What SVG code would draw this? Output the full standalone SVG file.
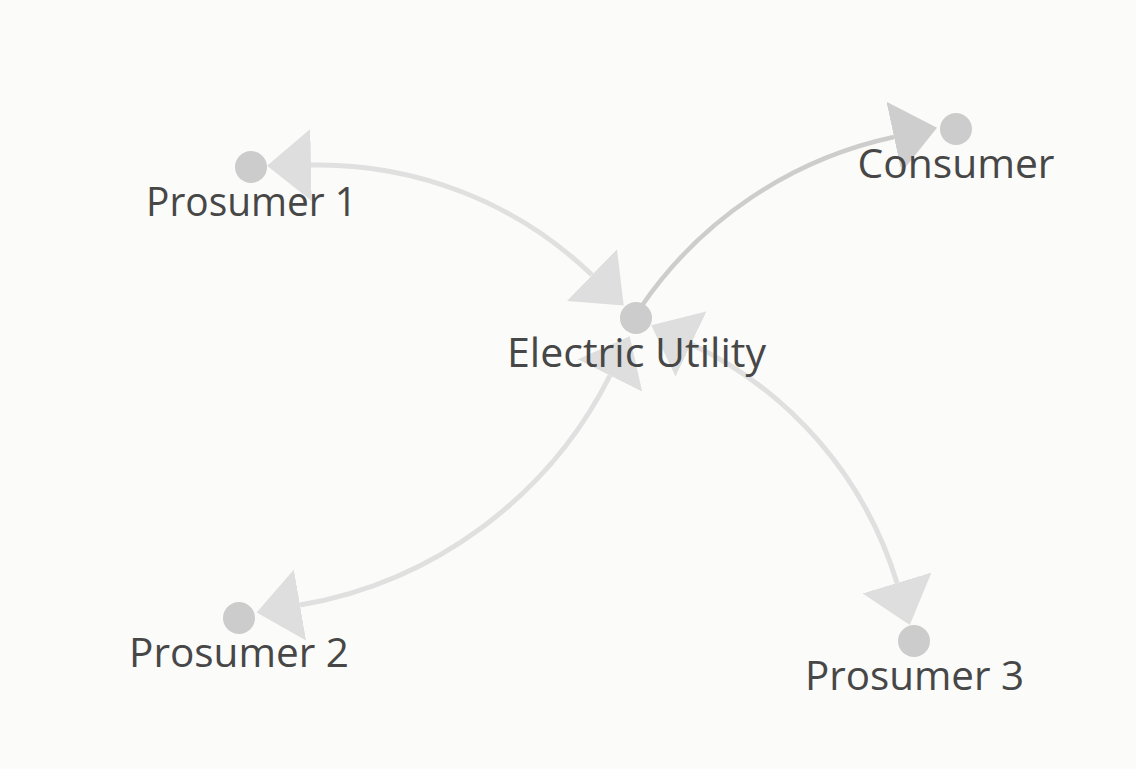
<svg xmlns="http://www.w3.org/2000/svg" width="1136" height="769" viewBox="0 0 1136 769">
  <defs>
    <marker id="arrLight" markerUnits="userSpaceOnUse" viewBox="0 -36 44 72" refX="0" refY="0" markerWidth="44" markerHeight="72" orient="auto-start-reverse">
      <polygon points="0,-36 44,0 0,36" fill="#dedede"/>
    </marker>
    <marker id="arrDark" markerUnits="userSpaceOnUse" viewBox="0 -36 44 72" refX="0" refY="0" markerWidth="44" markerHeight="72" orient="auto">
      <polygon points="0,-36 44,0 0,36" fill="#cecece"/>
    </marker>
  </defs>
  <style>
    .edge { fill: none; stroke: #e0e0e0; stroke-width: 5; }
    .edge.dark { stroke: #cdcdcd; stroke-width: 4.5; }
    .node circle { fill: #cccccc; }
    .node text { font-family: "Open Sans", "Liberation Sans", sans-serif; font-size: 40px; fill: #474747; text-anchor: middle; }
  </style>
  <rect width="1136" height="769" fill="#fbfbf9"/>
  <g id="connectors">
    <path class="edge" d="M311,165 A394,394 0 0 1 592,275" marker-start="url(#arrLight)" marker-end="url(#arrLight)"/>
    <path class="edge dark" d="M641,307 A410,410 0 0 1 894,137" marker-end="url(#arrDark)"/>
    <path class="edge" d="M300,605 A428,428 0 0 0 610,375.5" marker-start="url(#arrLight)" marker-end="url(#arrLight)"/>
    <path class="edge" d="M691,344 A390,390 0 0 1 897,583" marker-start="url(#arrLight)" marker-end="url(#arrLight)"/>
  </g>
  <g id="node-prosumer1" class="node">
    <circle cx="251" cy="167" r="16"/>
    <text x="251.5" y="216" textLength="211" lengthAdjust="spacingAndGlyphs">Prosumer 1</text>
  </g>
  <g id="node-consumer" class="node">
    <circle cx="956" cy="129" r="16"/>
    <text x="956" y="178" textLength="197" lengthAdjust="spacingAndGlyphs">Consumer</text>
  </g>
  <g id="node-utility" class="node">
    <circle cx="636" cy="318" r="16"/>
    <text x="636.5" y="367" textLength="259" lengthAdjust="spacingAndGlyphs">Electric Utility</text>
  </g>
  <g id="node-prosumer2" class="node">
    <circle cx="239" cy="618" r="16"/>
    <text x="239" y="667" textLength="220" lengthAdjust="spacingAndGlyphs">Prosumer 2</text>
  </g>
  <g id="node-prosumer3" class="node">
    <circle cx="914" cy="641" r="16"/>
    <text x="914.5" y="690" textLength="219" lengthAdjust="spacingAndGlyphs">Prosumer 3</text>
  </g>
</svg>
